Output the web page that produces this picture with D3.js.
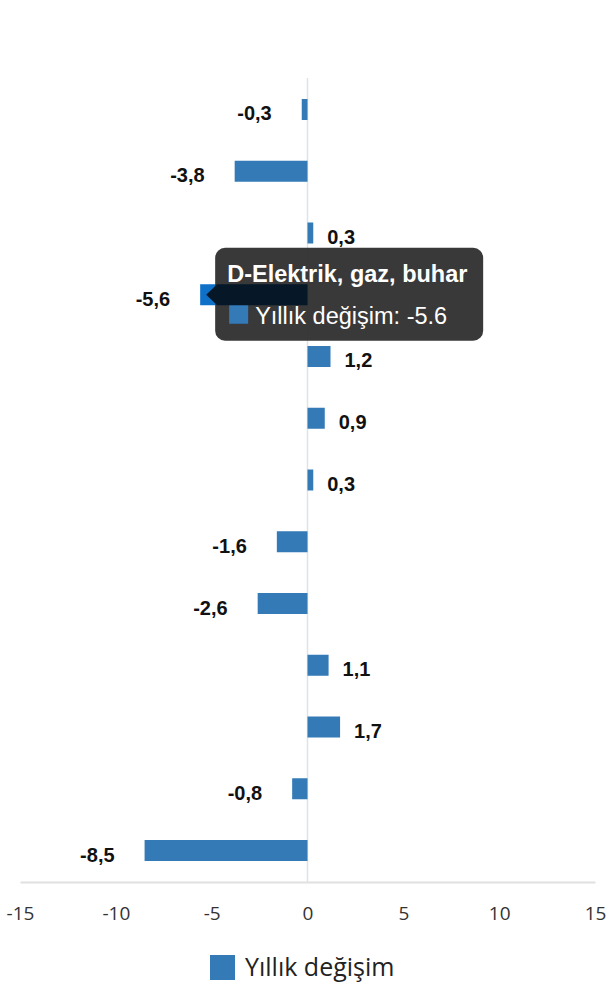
<!DOCTYPE html>
<html>
<head>
<meta charset="utf-8">
<style>
  body { margin: 0; background: white; }
  .val { font-family: "Liberation Sans", Arial, sans-serif; font-weight: bold; font-size: 20px; fill: #111; }
  .tick text { font-family: "Open Sans", "Noto Sans", sans-serif; font-size: 19px; fill: #333; }
  .legend { font-family: "Open Sans", "Noto Sans", sans-serif; font-size: 25px; fill: #222; }
  .tip { font-family: "Liberation Sans", Arial, sans-serif; font-size: 23.5px; fill: white; }
</style>
<script src="https://cdn.jsdelivr.net/npm/d3@7"></script>
</head>
<body>
<svg id="chart"></svg>
<script>
// sectors (y axis hidden), yearly change in %
let sectors = ["Toplam", "B-Madencilik", "C-İmalat", "D-Elektrik, gaz, buhar", "E-Su temini",
  "F-İnşaat", "G-Ticaret", "H-Ulaştırma", "I-Konaklama", "J-Bilgi ve iletişim",
  "L-Gayrimenkul", "M-Mesleki faaliyetler", "N-İdari hizmetler"]
let changes = [-0.3, -3.8, 0.3, -5.6, 1.2, 0.9, 0.3, -1.6, -2.6, 1.1, 1.7, -0.8, -8.5]
let xTicks = [-15, -10, -5, 0, 5, 10, 15]
let seriesName = "Yıllık değişim"
let hovered = 3

let data = sectors.map((s, i) => ({ sector: s, value: changes[i] }))

let width = 610
let height = 1000
let barColor = "#337ab7"

let svg = d3.select("#chart").attr("width", width).attr("height", height)

let x = d3.scaleLinear().domain([-15, 15]).range([20, 595])
let y = d3.scaleBand().domain(sectors).range([78, 882])
  .paddingInner(0.66).paddingOuter(0.34)

// zero line
svg.append("line")
  .attr("x1", x(0)).attr("x2", x(0))
  .attr("y1", 78).attr("y2", 882)
  .attr("stroke", "#dde3ec").attr("stroke-width", 1.5)

// axis
let axis = svg.append("g")
  .attr("transform", "translate(0,882)")
  .call(d3.axisBottom(x).tickValues(xTicks).tickSize(0).tickPadding(25).tickFormat(d => String(d)))
axis.select(".domain").attr("stroke", "#e0e0e0").attr("stroke-width", 2)

// bars
svg.selectAll("rect.bar").data(data)
  .enter().append("rect")
  .attr("class", "bar")
  .attr("x", d => x(Math.min(0, d.value)))
  .attr("width", d => Math.abs(x(d.value) - x(0)))
  .attr("y", d => y(d.sector))
  .attr("height", y.bandwidth())
  .attr("fill", (d, i) => i == hovered ? "#0f70c8" : barColor)

// value labels
svg.selectAll("text.val").data(data)
  .enter().append("text")
  .attr("class", "val")
  .attr("x", d => d.value < 0 ? x(d.value) - 30 : x(d.value) + 14)
  .attr("y", d => y(d.sector) + y.bandwidth() / 2 + 4)
  .attr("dominant-baseline", "central")
  .attr("text-anchor", d => d.value < 0 ? "end" : "start")
  .text(d => d.value.toFixed(1).replace(".", ","))

// legend
svg.append("rect").attr("x", 210).attr("y", 955).attr("width", 25).attr("height", 25).attr("fill", barColor)
svg.append("text").attr("class", "legend").attr("x", 245).attr("y", 976).text(seriesName)

// tooltip for hovered bar
let h = data[hovered]
let cy = y(h.sector) + y.bandwidth() / 2
let tx = x(h.value) + 15
let ty = cy - 47
let tip = svg.append("g")
tip.append("rect")
  .attr("x", tx).attr("y", ty).attr("width", 268).attr("height", 93)
  .attr("rx", 10).attr("fill", "#333333").attr("fill-opacity", 0.97)
tip.append("text").attr("class", "tip").attr("font-weight", "bold")
  .attr("x", tx + 12).attr("y", ty + 34).text(h.sector)
tip.append("rect")
  .attr("x", tx + 14).attr("y", ty + 57).attr("width", 19).attr("height", 19)
  .attr("fill", barColor)
tip.append("text").attr("class", "tip")
  .attr("x", tx + 40).attr("y", ty + 76).text(seriesName + ": " + h.value)

// pointer over the bar
let barTop = y(h.sector), barBot = y(h.sector) + y.bandwidth()
let px = x(h.value) + 6
svg.append("path")
  .attr("d", `M${px},${cy} L${px + 11},${barTop} L${x(0)},${barTop} L${x(0)},${barBot} L${px + 11},${barBot} Z`)
  .attr("fill", "#061828")
</script>
</body>
</html>
